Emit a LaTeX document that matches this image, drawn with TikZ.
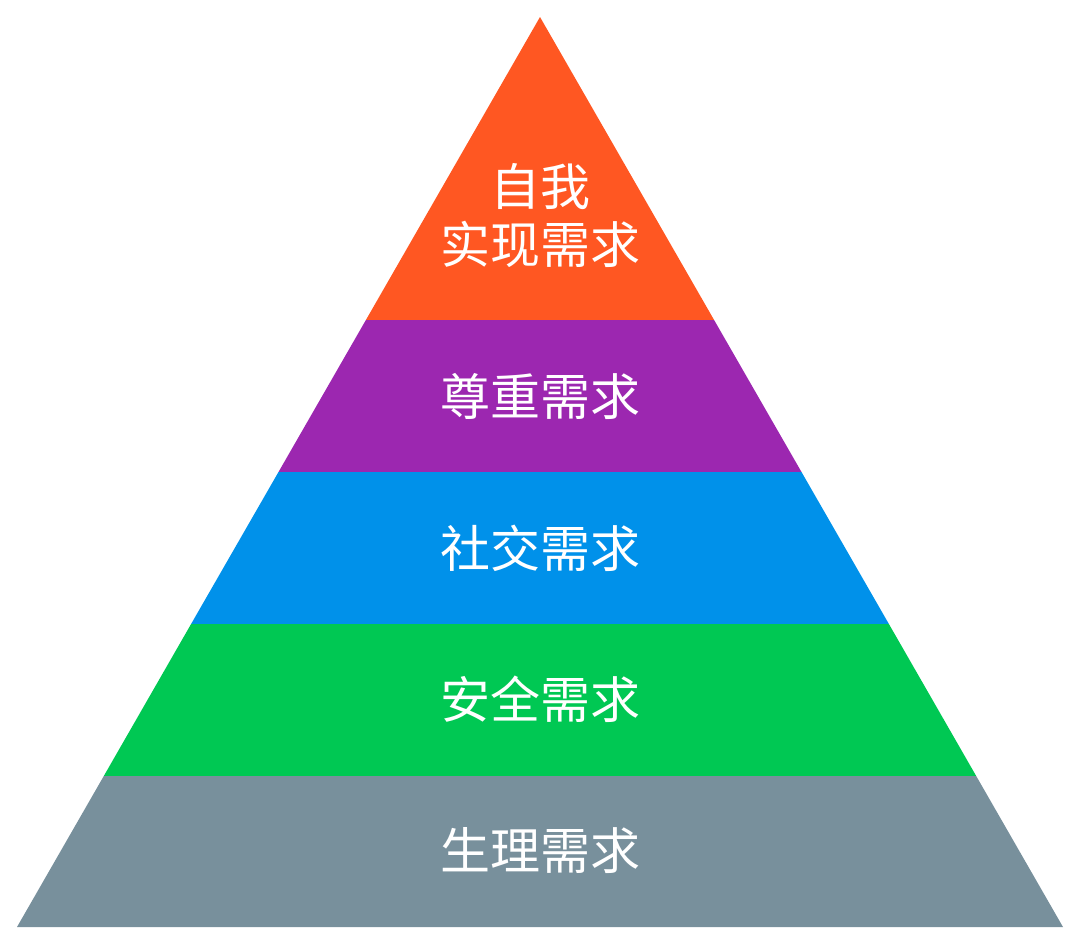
\documentclass[tikz,border=0pt]{standalone}
\usepackage{fontspec}
\newfontfamily\cjk{Noto Sans CJK SC}
\definecolor{cTop}{HTML}{FF5722}
\definecolor{cPurple}{HTML}{9C27B0}
\definecolor{cBlue}{HTML}{0091EA}
\definecolor{cGreen}{HTML}{00C853}
\definecolor{cGrey}{HTML}{78909C}
\begin{document}
\begin{tikzpicture}[x=1pt,y=-1pt,
  lbl/.style={text=white,font=\cjk\fontsize{50}{58}\selectfont,align=center,inner sep=0pt}]
\useasboundingbox (0,0) rectangle (1080,945);
\coordinate (A) at (540,17);
\coordinate (L1) at (365.9,320); \coordinate (R1) at (714.1,320);
\coordinate (L2) at (278.5,472); \coordinate (R2) at (801.5,472);
\coordinate (L3) at (191.1,624); \coordinate (R3) at (888.9,624);
\coordinate (L4) at (103.8,776); \coordinate (R4) at (976.2,776);
\coordinate (L5) at (17,927);    \coordinate (R5) at (1063,927);
\fill[cTop] (A) -- (R1) -- (L1) -- cycle;
\fill[cPurple] (L1) -- (R1) -- (R2) -- (L2) -- cycle;
\fill[cBlue] (L2) -- (R2) -- (R3) -- (L3) -- cycle;
\fill[cGreen] (L3) -- (R3) -- (R4) -- (L4) -- cycle;
\fill[cGrey] (L4) -- (R4) -- (R5) -- (L5) -- cycle;
\node[lbl] (t1) at (540,216) {自我\\实现需求};
\node[lbl] (t2) at (540,396) {尊重需求};
\node[lbl] (t3) at (540,548) {社交需求};
\node[lbl] (t4) at (540,699) {安全需求};
\node[lbl] (t5) at (540,851) {生理需求};
\end{tikzpicture}
\end{document}
